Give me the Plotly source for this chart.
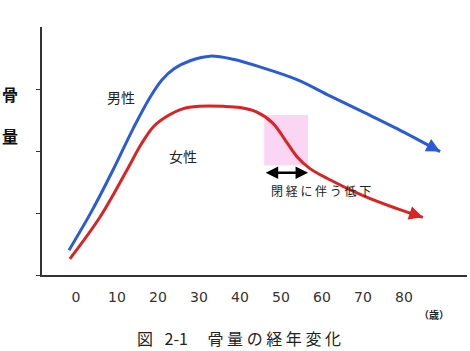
import plotly.graph_objects as go

# Data (age in years, bone mass in arbitrary units)
blue_age = [-1.7, 4, 9, 14, 18, 21, 24, 28, 32.7, 38.3, 45.6, 53.9, 61.9, 70, 78.3, 88.8]
blue_val = [0.40, 1.05, 1.69, 2.37, 2.86, 3.15, 3.33, 3.46, 3.53, 3.48, 3.34, 3.15, 2.89, 2.63, 2.36, 1.99]

red_age = [-1.5, 5.9, 12.4, 16, 19, 22.2, 26, 30, 36, 40, 44, 48, 51.5, 54, 57, 61.2, 70, 78.3, 84.6]
red_val = [0.26, 0.94, 1.69, 2.12, 2.40, 2.56, 2.68, 2.72, 2.72, 2.70, 2.63, 2.45, 2.13, 1.90, 1.72, 1.56, 1.28, 1.07, 0.93]

x_ticks = [0, 10, 20, 30, 40, 50, 60, 70, 80]
x_labels = ["0", "10", "20", "30", "40", "50", "60", "70", "80"]
y_ticks = [0, 1, 2, 3]

meno_start, meno_end = 45.9, 56.6
meno_low, meno_high = 1.77, 2.58
arrow_y = 1.65

BLUE = "#2a5bd8"
RED = "#dc2222"
FONT = "Noto Sans CJK JP"

fig = go.Figure()
fig.add_trace(go.Scatter(x=blue_age, y=blue_val, mode="lines",
                         line=dict(color=BLUE, width=3, shape="spline", smoothing=1.0),
                         hoverinfo="skip", showlegend=False))
fig.add_trace(go.Scatter(x=red_age, y=red_val, mode="lines",
                         line=dict(color=RED, width=3, shape="spline", smoothing=1.0),
                         hoverinfo="skip", showlegend=False))

# menopause shaded region
fig.add_shape(type="rect", xref="x", yref="y", x0=meno_start, x1=meno_end,
              y0=meno_low, y1=meno_high, fillcolor="#fbd6f4", line=dict(width=0), layer="below")

annotations = []
# arrow heads at curve ends
for ages, vals, col in [(blue_age, blue_val, BLUE), (red_age, red_val, RED)]:
    x1, y1 = ages[-1], vals[-1]
    x0, y0 = ages[-2], vals[-2]
    t = 0.75
    annotations.append(dict(x=x1, y=y1, ax=x0 + (x1 - x0) * t, ay=y0 + (y1 - y0) * t,
                            xref="x", yref="y", axref="x", ayref="y", text="",
                            showarrow=True, arrowhead=2, arrowsize=1.1, arrowwidth=2.5,
                            arrowcolor=col))
# double arrow
annotations.append(dict(x=meno_end, y=arrow_y, ax=meno_start, ay=arrow_y,
                        xref="x", yref="y", axref="x", ayref="y", text="",
                        showarrow=True, arrowhead=2, startarrowhead=2, arrowside="end+start",
                        arrowsize=1, startarrowsize=1, arrowwidth=2.5, arrowcolor="black"))
# labels in data coords
annotations += [
    dict(x=11, y=2.87, xref="x", yref="y", text="男性", showarrow=False,
         font=dict(family=FONT, size=14, color="#222")),
    dict(x=26, y=1.92, xref="x", yref="y", text="女性", showarrow=False,
         font=dict(family=FONT, size=14, color="#222")),
    dict(x=59.8, y=1.37, xref="x", yref="y", text="閉 経 に 伴 う 低 下", showarrow=False,
         font=dict(family=FONT, size=12, color="#222")),
]

W, H = 470, 351
ml, mr, mt, mb = 42, 3, 27, 76
pw, ph = W - ml - mr, H - mt - mb

def px_note(px, py, text, size, color="#222", family=FONT):
    return dict(x=(px - ml) / pw, y=((H - py) - mb) / ph, xref="paper", yref="paper",
                xanchor="center", yanchor="middle", text=text, showarrow=False,
                font=dict(family=family, size=size, color=color))

annotations += [
    px_note(10, 94, "<b>骨</b>", 16, "#111"),
    px_note(10, 136, "<b>量</b>", 16, "#111"),
    px_note(434, 314, "<b>（歳）</b>", 10),
    px_note(239, 338, "図\u2002 2-1　 骨 量 の 経 年 変 化", 16),
]

fig.update_layout(
    width=W, height=H, margin=dict(l=ml, r=mr, t=mt, b=mb),
    paper_bgcolor="white", plot_bgcolor="white",
    annotations=annotations,
    xaxis=dict(range=[-8.29, 95.37], tickvals=x_ticks, ticktext=x_labels,
               showgrid=False, zeroline=False, showline=True, linecolor="#333", linewidth=1.5,
               ticks="", ticklabelstandoff=8,
               tickfont=dict(family="DejaVu Sans", size=14, color="#333")),
    yaxis=dict(range=[0, 4], tickvals=y_ticks, showticklabels=False,
               showgrid=False, zeroline=False, showline=True, linecolor="#333", linewidth=1.5,
               ticks="outside", ticklen=4, tickcolor="#333", tickwidth=1),
)

fig.write_html("out.html")
